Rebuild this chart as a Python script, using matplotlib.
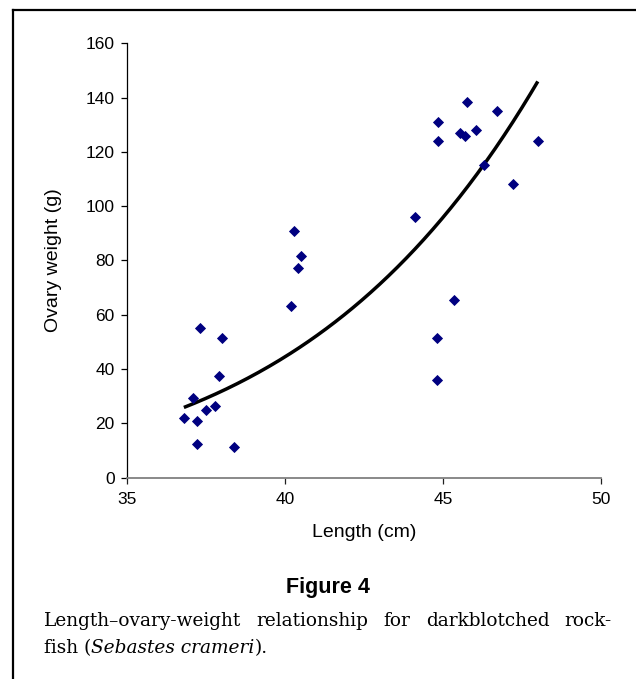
import numpy as np
import matplotlib
matplotlib.use("Agg")
import matplotlib.pyplot as plt
from matplotlib.lines import Line2D

# Darkblotched rockfish: body length and ovary weight
length_cm = [36.8, 37.1, 37.2, 37.2, 37.3, 37.5, 37.8, 37.9, 38.0, 38.4,
             40.2, 40.3, 40.4, 40.5, 44.1, 44.8, 44.8, 44.85, 44.85, 45.35,
             45.55, 45.7, 45.75, 46.05, 46.3, 46.7, 47.2, 48.0]
ovary_g = [22.0, 29.4, 20.9, 12.4, 55.1, 24.8, 26.3, 37.3, 51.3, 11.4,
           63.3, 90.8, 77.2, 81.7, 96.1, 51.3, 35.9, 131.1, 124.1, 65.3,
           127.1, 126.0, 138.3, 128.0, 115.2, 135.0, 108.2, 124.1]

x_ticks = [35, 40, 45, 50]
y_ticks = [0, 20, 40, 60, 80, 100, 120, 140, 160]

x_label = "Length (cm)"
y_label = "Ovary weight (g)"
fig_title = "Figure 4"
caption_line1 = ["Length\u2013ovary-weight", "relationship", "for", "darkblotched", "rock-"]
caption_line2 = [("fish (", "normal"), ("Sebastes crameri", "italic"), (").", "normal")]

plt.rcParams["font.family"] = ["Liberation Sans", "DejaVu Sans"]

W, H = 636, 679
fig = plt.figure(figsize=(W / 100, H / 100), dpi=100)
fig.patch.set_facecolor("white")

# plot area in pixel units
left, right, top, bottom = 127, 601, 43.3, 477.7
ax = fig.add_axes([left / W, 1 - bottom / H, (right - left) / W, (bottom - top) / H])

x = np.array(length_cm)
y = np.array(ovary_g)

# power-law trend line (least squares in log-log space)
b, log_a = np.polyfit(np.log(x), np.log(y), 1)
xs = np.linspace(x.min(), x.max(), 200)
ax.plot(xs, np.exp(log_a) * xs ** b, color="black", lw=2.5, solid_capstyle="butt", zorder=2)

ax.plot(x, y, linestyle="none", marker="D", markersize=4.6,
        markerfacecolor="#000080", markeredgecolor="#000080", markeredgewidth=0.6, zorder=3)

ax.set_xlim(35, 50)
ax.set_ylim(0, 160)
ax.set_xticks(x_ticks)
ax.set_yticks(y_ticks)
ax.set_xticklabels([str(v) for v in x_ticks])
ax.set_yticklabels([str(v) for v in y_ticks])

for side in ("top", "right"):
    ax.spines[side].set_visible(False)
ax.spines["left"].set_color("black")
ax.spines["left"].set_linewidth(0.9)
ax.spines["bottom"].set_color("#808080")
ax.spines["bottom"].set_linewidth(1.3)

ax.tick_params(axis="x", direction="out", length=4.5, width=0.9, color="#202020",
               labelsize=12.5, pad=6, labelcolor="black")
ax.tick_params(axis="y", direction="out", length=4, width=0.9, color="black",
               labelsize=12.5, pad=5, labelcolor="black")

ax.set_xlabel(x_label, fontsize=14)
ax.set_ylabel(y_label, fontsize=14)
ax.xaxis.set_label_coords(0.5, (bottom - 524) / (bottom - top))
ax.yaxis.set_label_coords((62 - left) / (right - left), 0.5)

# frame lines on the left and top edges of the page
fig.add_artist(Line2D([12.5 / W, 12.5 / W], [1 - 9.5 / H, 0], transform=fig.transFigure,
                      color="black", lw=1.6))
fig.add_artist(Line2D([12.5 / W, 1], [1 - 9.5 / H, 1 - 9.5 / H], transform=fig.transFigure,
                      color="black", lw=1.6))

fig.text(328 / W, 1 - 593 / H, fig_title, ha="center", va="baseline",
         fontsize=15.5, fontweight="bold", family=["Liberation Sans", "DejaVu Sans"])

# caption: justified first line, left-aligned second line
fig.canvas.draw()
renderer = fig.canvas.get_renderer()
cap_size = 13.3
cap_family = ["DejaVu Serif"]


def place_words(words, x0, baseline, x1=None, styles=None):
    texts = []
    for i, w in enumerate(words):
        st = styles[i] if styles else "normal"
        t = fig.text(0, 1 - baseline / H, w, ha="left", va="baseline",
                     fontsize=cap_size, family=cap_family, style=st)
        texts.append(t)
    widths = [t.get_window_extent(renderer).width for t in texts]
    if x1 is not None and len(texts) > 1:
        gap = (x1 - x0 - sum(widths)) / (len(texts) - 1)
    else:
        gap = 0
    pos = x0
    for t, wd in zip(texts, widths):
        t.set_x(pos / W)
        pos += wd + gap


place_words(caption_line1, 44, 626, x1=612)
place_words([p[0] for p in caption_line2], 44, 653, styles=[p[1] for p in caption_line2])

fig.savefig("out.png", dpi=100, facecolor="white")
